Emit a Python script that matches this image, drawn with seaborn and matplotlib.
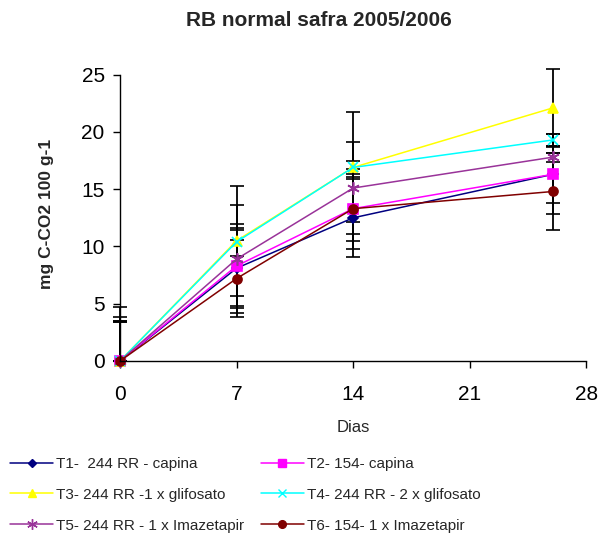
import numpy as np
import pandas as pd
import matplotlib
matplotlib.use("Agg")
import matplotlib.pyplot as plt
import seaborn as sns

# sampling days
dias = [0, 7, 14, 26]

# treatment labels
t1 = "T1-  244 RR - capina"
t2 = "T2- 154- capina"
t3 = "T3- 244 RR -1 x glifosato"
t4 = "T4- 244 RR - 2 x glifosato"
t5 = "T5- 244 RR - 1 x Imazetapir"
t6 = "T6- 154- 1 x Imazetapir"

# mean mg C-CO2 100 g-1
t1_vals = [0, 8.1, 12.5, 16.3]
t2_vals = [0, 8.3, 13.3, 16.3]
t3_vals = [0, 10.5, 16.9, 22.1]
t4_vals = [0, 10.4, 16.9, 19.3]
t5_vals = [0, 8.9, 15.1, 17.8]
t6_vals = [0, 7.2, 13.3, 14.8]

# error bar half-lengths
t1_err = [3.4, 3.3, 3.4, 2.5]
t2_err = [3.8, 3.7, 2.8, 3.5]
t3_err = [4.7, 4.8, 4.8, 3.4]
t4_err = [3.4, 1.2, 0.6, 0.5]
t5_err = [3.5, 4.7, 4.0, 0.4]
t6_err = [3.5, 3.4, 3.5, 3.4]

names = [t1, t2, t3, t4, t5, t6]
vals = [t1_vals, t2_vals, t3_vals, t4_vals, t5_vals, t6_vals]
errs = [t1_err, t2_err, t3_err, t4_err, t5_err, t6_err]

df = pd.DataFrame({
    "Dias": dias * len(names),
    "valor": sum(vals, []),
    "erro": sum(errs, []),
    "trat": [n for n in names for _ in dias],
})

colors = {t1: "#000080", t2: "#FF00FF", t3: "#FFFF00",
          t4: "#00FFFF", t5: "#993399", t6: "#800000"}
markers = {t1: "D", t2: "s", t3: "^", t4: "x", t5: (6, 2, 0), t6: "o"}
msizes = {t1: 5, t2: 6.5, t3: 7.5, t4: 7.5, t5: 9, t6: 6.5}

sns.set_style("white")
plt.rcParams["font.family"] = ["Liberation Sans", "DejaVu Sans"]

fig = plt.figure(figsize=(6, 5.34), dpi=100)
ax = fig.add_axes([0.2, 0.324, 0.777, 0.549])

# black error bars underneath (the axis floor cuts them at zero)
for n in names:
    sub = df[df["trat"] == n]
    lower = np.minimum(sub["erro"], sub["valor"])
    ax.errorbar(sub["Dias"], sub["valor"], yerr=[lower, sub["erro"]],
                fmt="none", ecolor="black", elinewidth=1.3, capsize=5,
                capthick=1.2, zorder=1, clip_on=False)

for n in names:
    sub = df[df["trat"] == n]
    sns.lineplot(data=sub, x="Dias", y="valor", color=colors[n],
                 marker=markers[n], markersize=msizes[n],
                 markeredgecolor=colors[n], markeredgewidth=1.2,
                 linewidth=1.1, ax=ax, zorder=2, clip_on=False)

ax.set_xlim(0, 28)
ax.set_ylim(0, 25.6)
ax.set_xticks([0, 7, 14, 21, 28])
ax.set_yticks([0, 5, 10, 15, 20, 25])
ax.spines["top"].set_visible(False)
ax.spines["right"].set_visible(False)
ax.spines["left"].set_bounds(0, 25)
for s in ["left", "bottom"]:
    ax.spines[s].set_color("black")
    ax.spines[s].set_linewidth(1)
ax.tick_params(axis="both", direction="out", length=5, width=1,
               colors="black", labelsize=15, left=True, bottom=True)
ax.tick_params(axis="x", pad=12)
ax.tick_params(axis="y", pad=6)
ax.set_xlabel("Dias", fontsize=12, labelpad=12)
ax.set_ylabel("mg C-CO2 100 g-1", fontsize=12.5, fontweight="bold",
              labelpad=20)
fig.suptitle("RB normal safra 2005/2006", fontsize=15, fontweight="bold",
             x=0.532, y=0.9625, va="center")

# legend below, two columns
handles = []
for n in names:
    h = plt.Line2D([], [], color=colors[n], marker=markers[n], linewidth=1.1,
                   markersize=msizes[n] * 0.85, markeredgecolor=colors[n])
    handles.append(h)
order = [0, 2, 4, 1, 3, 5]
fig.legend([handles[i] for i in order], [names[i] for i in order],
           loc="upper left", bbox_to_anchor=(-0.006, 0.17), ncol=2,
           frameon=False, fontsize=11, handlelength=2.8, columnspacing=1.1,
           labelspacing=1.1, handletextpad=0.2)

fig.savefig("out.png", dpi=100)
